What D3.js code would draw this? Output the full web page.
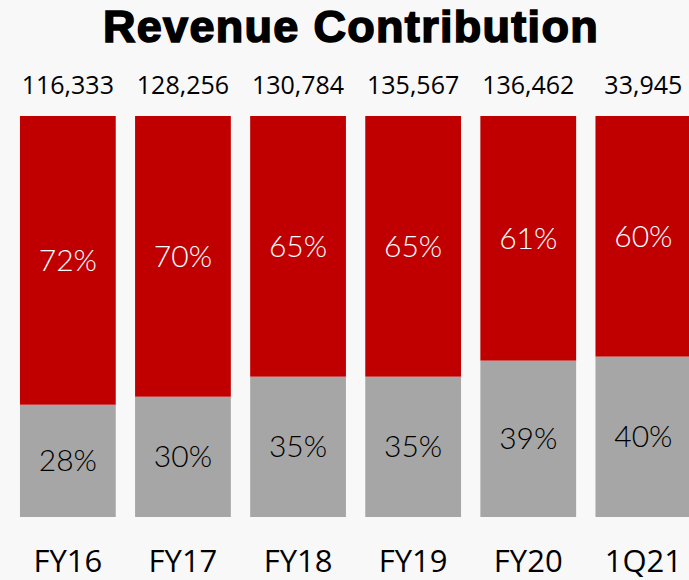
<!DOCTYPE html>
<html>
<head>
<meta charset="utf-8">
<script src="https://cdn.jsdelivr.net/npm/d3@7"></script>
<style>
  html, body { margin: 0; padding: 0; background: #f8f8f8; overflow: hidden; }
</style>
</head>
<body>
<div id="chart"></div>
<script>
// data
const categories = ['FY16', 'FY17', 'FY18', 'FY19', 'FY20', '1Q21'];
const totals = [116333, 128256, 130784, 135567, 136462, 33945];
const redShare = [72, 70, 65, 65, 61, 60];
const greyShare = [28, 30, 35, 35, 39, 40];

const width = 689;
const height = 580;
const margin = { top: 116, bottom: 63 };

const svg = d3.select('#chart').append('svg')
  .attr('width', width)
  .attr('height', height)
  .style('display', 'block');

svg.append('rect')
  .attr('width', width)
  .attr('height', height)
  .attr('fill', '#f8f8f8');

const x = d3.scaleBand()
  .domain(categories)
  .range([10.3, 10.3 + 6 * 115.1])
  .paddingInner(0.168)
  .paddingOuter(0.084);

const y = d3.scaleLinear()
  .domain([0, 100])
  .range([height - margin.bottom, margin.top]);

const rows = categories.map((c, i) => ({
  cat: c, total: totals[i], red: redShare[i], grey: greyShare[i]
}));

// grey segment (bottom)
svg.selectAll('.grey')
  .data(rows)
  .enter().append('rect')
  .attr('class', 'grey')
  .attr('x', d => x(d.cat))
  .attr('width', x.bandwidth())
  .attr('y', d => y(d.grey))
  .attr('height', d => y(0) - y(d.grey))
  .attr('fill', '#a6a6a6');

// red segment (top)
svg.selectAll('.red')
  .data(rows)
  .enter().append('rect')
  .attr('class', 'red')
  .attr('x', d => x(d.cat))
  .attr('width', x.bandwidth())
  .attr('y', d => y(d.grey + d.red))
  .attr('height', d => y(d.grey) - y(d.grey + d.red))
  .attr('fill', '#c00000');

const pctFont = "Lato, sans-serif";
const bodyFont = "'Open Sans', sans-serif";

svg.selectAll('.redLabel')
  .data(rows)
  .enter().append('text')
  .attr('class', 'redLabel')
  .attr('x', d => x(d.cat) + x.bandwidth() / 2)
  .attr('y', d => (y(d.grey) + y(d.grey + d.red)) / 2)
  .attr('dy', '0.35em')
  .attr('text-anchor', 'middle')
  .attr('font-family', pctFont)
  .attr('font-weight', 300)
  .attr('font-size', '30px')
  .attr('fill', '#ffffff')
  .text(d => d.red + '%');

svg.selectAll('.greyLabel')
  .data(rows)
  .enter().append('text')
  .attr('class', 'greyLabel')
  .attr('x', d => x(d.cat) + x.bandwidth() / 2)
  .attr('y', d => (y(0) + y(d.grey)) / 2)
  .attr('dy', '0.35em')
  .attr('text-anchor', 'middle')
  .attr('font-family', pctFont)
  .attr('font-weight', 300)
  .attr('font-size', '30px')
  .attr('fill', '#000000')
  .text(d => d.grey + '%');

// totals above the bars
svg.selectAll('.total')
  .data(rows)
  .enter().append('text')
  .attr('class', 'total')
  .attr('x', d => x(d.cat) + x.bandwidth() / 2)
  .attr('y', 94)
  .attr('text-anchor', 'middle')
  .attr('font-family', bodyFont)
  .attr('font-size', '25px')
  .attr('fill', '#000000')
  .text(d => d3.format(',')(d.total));

// category axis
svg.append('g')
  .attr('transform', `translate(0,${572})`)
  .call(d3.axisBottom(x).tickSize(0).tickPadding(0))
  .call(g => g.select('.domain').remove())
  .call(g => g.selectAll('text')
    .attr('dy', 0)
    .attr('font-family', bodyFont)
    .attr('font-size', '31px')
    .attr('fill', '#000000'));

svg.append('text')
  .attr('x', 351)
  .attr('y', 42)
  .attr('text-anchor', 'middle')
  .attr('font-family', "'Arial Black', 'Liberation Sans', Arial, sans-serif")
  .attr('font-weight', 'bold')
  .attr('font-size', '45px')
  .attr('letter-spacing', '1.3px')
  .attr('stroke', '#000000')
  .attr('stroke-width', 1.6)
  .attr('fill', '#000000')
  .text('Revenue Contribution');
</script>
</body>
</html>
